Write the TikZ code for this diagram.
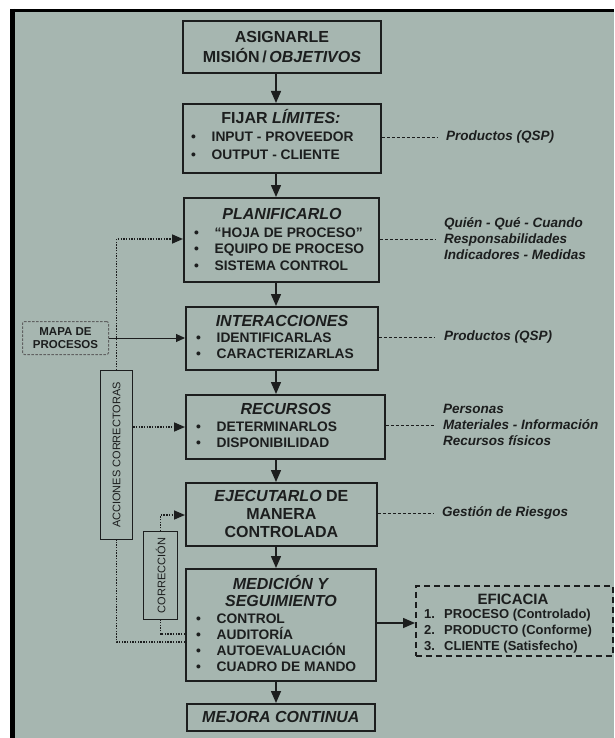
\documentclass[tikz,border=0pt]{standalone}
\usepackage{fontspec}
\setmainfont{Liberation Sans}
\usetikzlibrary{arrows.meta}
\definecolor{bg}{RGB}{166,182,176}
\definecolor{ink}{RGB}{28,30,30}
\newcommand\ftitle{\fontsize{16}{18}\selectfont\bfseries}
\newcommand\fitem{\fontsize{13.8}{16}\selectfont\bfseries}
\newcommand\fann{\fontsize{13.5}{16}\selectfont\bfseries\itshape}
\newcommand\feff{\fontsize{13}{15.5}\selectfont\bfseries}
\newcommand\fside{\fontsize{11}{12}\selectfont}
\newcommand\fmapa{\fontsize{11.5}{13.5}\selectfont\bfseries}
\newcommand\bul{\makebox[20.5pt][l]{\textbullet}}
\newcommand\num[1]{\makebox[20pt][l]{#1}}
\begin{document}
\begin{tikzpicture}[x=1pt,y=-1pt,
  every node/.style={text=ink},
  box/.style={draw=ink,line width=1.8pt,inner sep=0pt,anchor=north west,align=center,font=\ftitle},
  ttl/.style={inner sep=0pt,anchor=base,font=\ftitle},
  itm/.style={inner sep=0pt,anchor=base west,font=\fitem},
  ann/.style={inner sep=0pt,anchor=west,align=left,font=\fann},
  effitm/.style={inner sep=0pt,anchor=base west,font=\feff},
  sidebox/.style={draw=ink,line width=1.1pt,inner sep=0pt,anchor=north west},
  arr/.style={draw=ink,line width=1.5pt,-{Triangle[length=12pt,width=10pt]}},
  arrs/.style={draw=ink,line width=1pt,-{Triangle[length=9pt,width=8pt]}},
  dotln/.style={draw=ink,line width=1.6pt,dash pattern=on 1.4pt off 1.3pt},
  dotarr/.style={dotln,-{Triangle[length=11pt,width=9pt]}},
  annln/.style={draw=ink,line width=0.8pt,dash pattern=on 3pt off 2pt},
]
\useasboundingbox (0,0) rectangle (614,738);
\fill[white] (0,0) rectangle (614,738);
\fill[bg] (12,11) rectangle (614,738);
\draw[black,line width=5pt] (12.5,9) -- (12.5,738);
\draw[black,line width=3pt] (10,10.5) -- (614,10.5);

% main boxes
\node[box,minimum width=198pt,minimum height=52pt] (b1) at (182,20)
  {ASIGNARLE\\[2pt]MISIÓN\thinspace/\thinspace\textit{OBJETIVOS}};
\node[box,minimum width=198pt,minimum height=69pt] (b2) at (182,103) {};
\node[box,minimum width=195pt,minimum height=84pt] (b3) at (183,197) {};
\node[box,minimum width=192pt,minimum height=63pt] (b4) at (185,306) {};
\node[box,minimum width=199pt,minimum height=64pt] (b5) at (185,394) {};
\node[box,minimum width=191pt,minimum height=63pt] (b6) at (185,482)
  {\textit{EJECUTARLO} DE\\MANERA\\CONTROLADA};
\node[box,minimum width=190pt,minimum height=112pt] (b7) at (185,568) {};
\node[box,minimum width=188pt,minimum height=27pt] (b8) at (186,703)
  {\textit{MEJORA CONTINUA}};

% box texts
\node[ttl] (t2) at (281,124) {FIJAR \textit{LÍMITES:}};
\node[itm] (i21) at (191,142) {\bul INPUT - PROVEEDOR};
\node[itm] (i22) at (191,160) {\bul OUTPUT - CLIENTE};

\node[ttl] (t3) at (282,219) {\textit{PLANIFICARLO}};
\node[itm] (i31) at (194,237) {\bul “HOJA DE PROCESO”};
\node[itm] (i32) at (194,253) {\bul EQUIPO DE PROCESO};
\node[itm] (i33) at (194,270) {\bul SISTEMA CONTROL};

\node[ttl] (t4) at (282,326) {\textit{INTERACCIONES}};
\node[itm] (i41) at (196,342) {\bul IDENTIFICARLAS};
\node[itm] (i42) at (196,358) {\bul CARACTERIZARLAS};

\node[ttl] (t5) at (286,414) {\textit{RECURSOS}};
\node[itm] (i51) at (196,431) {\bul DETERMINARLOS};
\node[itm] (i52) at (196,447) {\bul DISPONIBILIDAD};

\node[ttl] (t71) at (281,589) {\textit{MEDICIÓN Y}};
\node[ttl] (t72) at (281,606) {\textit{SEGUIMIENTO}};
\node[itm] (i71) at (196,623) {\bul CONTROL};
\node[itm] (i72) at (196,639) {\bul AUDITORÍA};
\node[itm] (i73) at (196,655) {\bul AUTOEVALUACIÓN};
\node[itm] (i74) at (196,671) {\bul CUADRO DE MANDO};

% main chain arrows
\coordinate (ax) at (276,0);
\draw[arr] (b1.south -| ax) -- (b2.north -| ax);
\draw[arr] (b2.south -| ax) -- (b3.north -| ax);
\draw[arr] (b3.south -| ax) -- (b4.north -| ax);
\draw[arr] (b4.south -| ax) -- (b5.north -| ax);
\draw[arr] (b5.south -| ax) -- (b6.north -| ax);
\draw[arr] (b6.south -| ax) -- (b7.north -| ax);
\draw[arr] (b7.south -| ax) -- (b8.north -| ax);

% annotations
\node[ann] (a2) at (446,137) {Productos (QSP)};
\node[ann] (a3) at (444,239) {Quién - Qué - Cuando\\Responsabilidades\\Indicadores - Medidas};
\node[ann] (a4) at (444,337) {Productos (QSP)};
\node[ann] (a5) at (443,425) {Personas\\Materiales - Información\\Recursos físicos};
\node[ann] (a6) at (442,513) {Gestión de Riesgos};
\draw[annln] (b2.east |- a2.west) -- ([xshift=-8pt]a2.west);
\draw[annln] (b3.east |- a3.west) -- ([xshift=-8pt]a3.west);
\draw[annln] (b4.east |- a4.west) -- ([xshift=-9pt]a4.west);
\draw[annln] (b5.east |- a5.west) -- ([xshift=-9pt]a5.west);
\draw[annln] (b6.east |- a6.west) -- ([xshift=-9pt]a6.west);

% EFICACIA
\node[draw=ink,line width=1.8pt,dash pattern=on 6pt off 4pt,inner sep=0pt,anchor=north west,
  minimum width=197pt,minimum height=70pt] (eff) at (415,585) {};
\node[inner sep=0pt,anchor=base,font=\fontsize{15}{17}\selectfont\bfseries] (et) at (513,604) {EFICACIA};
\node[effitm] (e1) at (424,618) {\num{1.}PROCESO (Controlado)};
\node[effitm] (e2) at (424,634) {\num{2.}PRODUCTO (Conforme)};
\node[effitm] (e3) at (424,650) {\num{3.}CLIENTE (Satisfecho)};
\coordinate (ye) at (0,623);
\draw[arr] (b7.east |- ye) -- (eff.west |- ye);

% left side
\node[draw=ink!70,line width=1pt,dash pattern=on 2.5pt off 1.5pt,rounded corners=2pt,
  inner sep=0pt,anchor=north west,minimum width=86pt,minimum height=33pt,
  align=center,font=\fmapa] (mapa) at (22,321) {MAPA DE\\PROCESOS};
\draw[arrs] (mapa.east) -- (b4.west |- mapa.east);

\node[sidebox,minimum width=32pt,minimum height=169pt] (acc) at (100,370) {};
\node[inner sep=0pt,rotate=90,font=\fside] (acct) at (acc.center) {ACCIONES CORRECTORAS};
\node[sidebox,minimum width=34pt,minimum height=88pt] (corr) at (143,531) {};
\node[inner sep=0pt,rotate=90,font=\fside] (corrt) at (corr.center) {CORRECCIÓN};

\coordinate (y3) at (0,239);
\coordinate (y5) at (0,427);
\coordinate (y6) at (0,515);
\coordinate (y7a) at (0,642);
\coordinate (y7b) at (0,634);
\draw[dotarr] (acc.north) |- (b3.west |- y3);
\draw[dotarr] (acc.east |- y5) -- (b5.west |- y5);
\draw[dotln] (b7.west |- y7a) -| (acc.south);
\draw[dotarr] (corr.north) |- (b6.west |- y6);
\draw[dotln] (b7.west |- y7b) -| (corr.south);
\end{tikzpicture}
\end{document}
